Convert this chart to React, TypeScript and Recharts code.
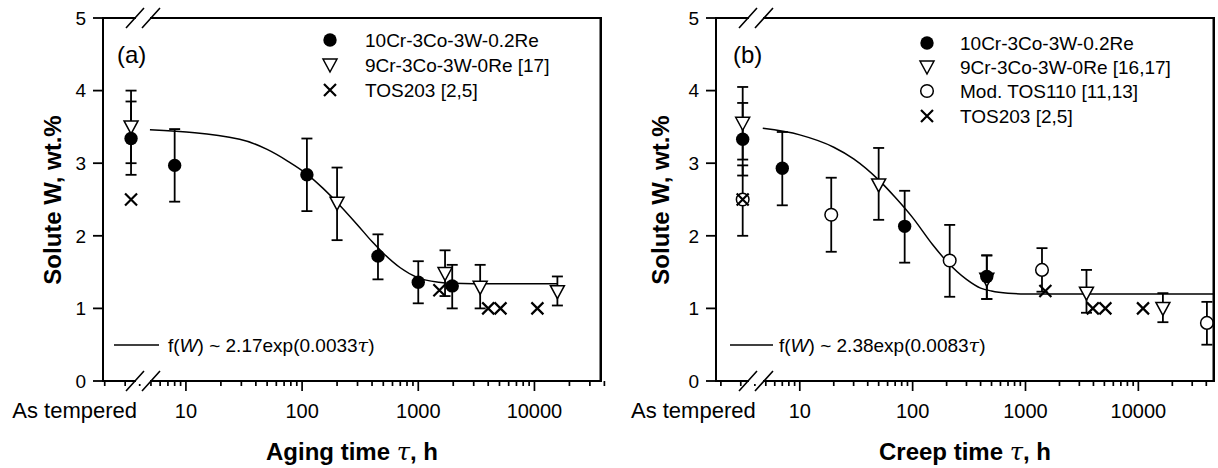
import { ComposedChart, Scatter, Line, XAxis, YAxis, ErrorBar, ReferenceArea } from "recharts";

const FONT = "'Liberation Sans', Arial, Helvetica, sans-serif";

// ---- panel (a): aging ----
const AGING_AS_TEMPERED = 3.37; // axis position used for the "As tempered" state
const agingReT = [AGING_AS_TEMPERED, 8, 110, 450, 1000, 1960];
const agingReW = [3.34, 2.97, 2.84, 1.72, 1.36, 1.31];
const agingReLo = [2.84, 2.47, 2.34, 1.4, 1.07, 1.0];
const agingReHi = [3.85, 3.47, 3.34, 2.02, 1.65, 1.6];

const aging0ReT = [AGING_AS_TEMPERED, 200, 1700, 3410, 15760];
const aging0ReW = [3.5, 2.45, 1.48, 1.29, 1.23];
const aging0ReLo = [3.0, 1.94, 1.17, 1.0, 1.04];
const aging0ReHi = [4.0, 2.94, 1.8, 1.6, 1.44];

const agingTosT = [AGING_AS_TEMPERED, 1520, 4000, 5100, 10600];
const agingTosW = [2.5, 1.25, 1.0, 1.0, 1.0];

const agingFitT = [4.9, 29, 50, 75, 110, 150, 200, 300, 400, 500, 700, 1000, 1500, 2000, 3000, 15800];
const agingFitW = [3.46, 3.33, 3.19, 3.03, 2.85, 2.66, 2.46, 2.15, 1.92, 1.76, 1.56, 1.42, 1.36, 1.345, 1.34, 1.34];

// ---- panel (b): creep ----
const CREEP_AS_TEMPERED = 3.12;
const creepReT = [CREEP_AS_TEMPERED, 7, 85, 454];
const creepReW = [3.33, 2.93, 2.13, 1.44];
const creepReLo = [2.83, 2.42, 1.63, 1.13];
const creepReHi = [3.83, 3.43, 2.62, 1.73];

const creep0ReT = [CREEP_AS_TEMPERED, 50, 454, 3470, 16500];
const creep0ReW = [3.55, 2.7, 1.4, 1.21, 1.0];
const creep0ReLo = [3.05, 2.22, 1.13, 0.94, 0.81];
const creep0ReHi = [4.05, 3.21, 1.73, 1.53, 1.21];

const creepTos110T = [CREEP_AS_TEMPERED, 19, 213, 1400, 40500];
const creepTos110W = [2.5, 2.29, 1.66, 1.53, 0.8];
const creepTos110Lo = [2.0, 1.78, 1.16, 1.23, 0.5];
const creepTos110Hi = [2.97, 2.8, 2.15, 1.83, 1.09];

const creepTosT = [CREEP_AS_TEMPERED, 1500, 3950, 5100, 11000];
const creepTosW = [2.5, 1.24, 1.0, 1.0, 1.0];

const creepFitT = [4.7, 10, 20, 30, 50, 70, 100, 150, 200, 300, 400, 500, 700, 1000, 49000];
const creepFitW = [3.48, 3.39, 3.22, 3.06, 2.77, 2.53, 2.25, 1.88, 1.65, 1.4, 1.28, 1.24, 1.21, 1.2, 1.2];

// ---- axes ----
const yTicks = [0, 1, 2, 3, 4, 5];
const majorTicks = [10, 100, 1000, 10000];
const minorTicks = [2, 3, 4, 5, 6, 7, 8, 9, 20, 30, 40, 50, 60, 70, 80, 90, 200, 300, 400, 500, 600, 700, 800, 900,
  2000, 3000, 4000, 5000, 6000, 7000, 8000, 9000, 20000, 30000, 40000];

const AXIS_W = 2;

const pts = (t: number[], w: number[], lo?: number[], hi?: number[]) =>
  t.map((x, i) => ({
    t: x,
    w: w[i],
    err: lo && hi ? [w[i] - lo[i], hi[i] - w[i]] : undefined,
  }));

const Dot = (p: any) => <circle cx={p.cx} cy={p.cy} r={6.7} fill="#000" />;
const Ring = (p: any) => (
  <circle cx={p.cx} cy={p.cy} r={6.3} fill="#fff" stroke="#000" strokeWidth={1.5} />
);
const Tri = (p: any) => (
  <path
    d={`M${p.cx - 7},${p.cy - 6}L${p.cx + 7},${p.cy - 6}L${p.cx},${p.cy + 7}Z`}
    fill="#fff"
    stroke="#000"
    strokeWidth={1.5}
  />
);
const Cross = (p: any) => (
  <path
    d={`M${p.cx - 6},${p.cy - 6}L${p.cx + 6},${p.cy + 6}M${p.cx - 6},${p.cy + 6}L${p.cx + 6},${p.cy - 6}`}
    stroke="#000"
    strokeWidth={2.2}
  />
);

const SHAPES: Record<string, any> = { dot: Dot, ring: Ring, tri: Tri, cross: Cross };

function LogTick(props: any) {
  const { x, y, payload, asTempered, atOffset } = props;
  const v = payload.value;
  const isAT = v === asTempered;
  const label = isAT ? "As tempered" : majorTicks.includes(v) ? String(v) : "";
  return (
    <g>
      {!isAT && (
        <line x1={x} y1={y} x2={x} y2={y + (label ? 10 : 5)} stroke="#000" strokeWidth={1.7} />
      )}
      {label && (
        <text
          x={isAT ? x + atOffset : x}
          y={y + 37}
          textAnchor={isAT ? "end" : "middle"}
          fontSize={isAT ? 22 : 20}
          fontFamily={FONT}
          fill="#000"
        >
          {label}
        </text>
      )}
    </g>
  );
}

function LegendMarker({ kind, x, y }: { kind: string; x: number; y: number }) {
  const S = SHAPES[kind];
  return <S cx={x} cy={y} />;
}

interface SeriesDef {
  name: string;
  kind: string;
  data: { t: number; w: number; err?: number[] }[];
}

interface PanelProps {
  left: number;
  ml: number;
  mr: number;
  domain: [number, number];
  asTempered: number;
  atOffset: number;
  series: SeriesDef[];
  legendOrder: SeriesDef[];
  fit: { t: number; w: number }[];
  fitLabel: [string, string];
  tag: string;
  xTitle: string;
  lay: {
    tagX: number;
    legX: number;
    legTextX: number;
    legY: number[];
    fitX1: number;
    fitX2: number;
    fitTextX: number;
    fitY: number;
    brk: [number, number];
  };
}

function Panel(p: PanelProps) {
  const plotL = p.ml + 60;
  const plotR = 610 - p.mr;
  const axisY = 381;
  const top = 18;
  const slash = (cx: number, cy: number) => `M${cx - 9},${cy + 10}L${cx + 9},${cy - 10}`;
  return (
    <div style={{ position: "absolute", left: p.left, top: 0, width: 610, height: 468 }}>
      <ComposedChart width={610} height={468} margin={{ top, right: p.mr, bottom: 27, left: p.ml }}>
        <XAxis
          dataKey="t"
          type="number"
          scale="log"
          domain={p.domain}
          allowDataOverflow
          ticks={[p.asTempered, ...minorTicks, ...majorTicks]}
          interval={0}
          height={60}
          tickSize={0}
          tickMargin={0}
          tickLine={false}
          axisLine={{ stroke: "#000", strokeWidth: AXIS_W }}
          tick={<LogTick asTempered={p.asTempered} atOffset={p.atOffset} />}
        />
        <YAxis
          dataKey="w"
          type="number"
          domain={[0, 5]}
          ticks={yTicks}
          allowDataOverflow
          width={60}
          tickSize={10}
          tickMargin={7}
          axisLine={{ stroke: "#000", strokeWidth: AXIS_W }}
          tickLine={{ stroke: "#000", strokeWidth: 1.8 }}
          tick={{ fill: "#000", fontSize: 19, fontFamily: FONT }}
        />
        {/* plot frame, drawn through the chart's own scales */}
        <ReferenceArea
          x1={p.domain[0]}
          x2={p.domain[1]}
          y1={0}
          y2={5}
          fill="none"
          fillOpacity={0}
          stroke="#000"
          strokeWidth={AXIS_W}
          strokeOpacity={1}
          ifOverflow="visible"
        />
        <Line
          data={p.fit}
          dataKey="w"
          type="monotone"
          stroke="#000"
          strokeWidth={1.5}
          dot={false}
          isAnimationActive={false}
        />
        {p.series.map((s) => (
          <Scatter key={s.name} name={s.name} data={s.data} shape={SHAPES[s.kind]} isAnimationActive={false}>
            {s.data.some((d) => d.err) && (
              <ErrorBar dataKey="err" direction="y" width={5.5} stroke="#000" strokeWidth={1.8} />
            )}
          </Scatter>
        ))}
      </ComposedChart>
      <svg
        width={610}
        height={468}
        style={{ position: "absolute", left: 0, top: 0, pointerEvents: "none", overflow: "visible" }}
        fontFamily={FONT}
      >
        {/* plot frame: top edge and right edge */}
        <rect x={plotL} y={top - 1} width={plotR - plotL + 1} height={2} fill="#000" />
        <rect x={plotR - 1.5} y={top - 1} width={2.5} height={axisY - top + 2} fill="#000" />
        {/* axis breaks */}
        {[top, axisY].map((yy) => (
          <g key={yy}>
            <rect x={p.lay.brk[0] + 1} y={yy - 3} width={p.lay.brk[1] - p.lay.brk[0] - 2} height={6} fill="#fff" />
            <path d={slash(p.lay.brk[0], yy) + slash(p.lay.brk[1], yy)} stroke="#000" strokeWidth={1.6} fill="none" />
          </g>
        ))}
        <text x={p.lay.tagX} y={63} fontSize={24} fill="#000">
          {p.tag}
        </text>
        {p.legendOrder.map((s, i) => (
          <g key={s.name}>
            <LegendMarker kind={s.kind} x={p.lay.legX} y={p.lay.legY[i]} />
            <text x={p.lay.legTextX} y={p.lay.legY[i]} dy="0.36em" fontSize={19} fill="#000">
              {s.name}
            </text>
          </g>
        ))}
        <line x1={p.lay.fitX1} x2={p.lay.fitX2} y1={p.lay.fitY} y2={p.lay.fitY} stroke="#000" strokeWidth={1.5} />
        <text x={p.lay.fitTextX} y={p.lay.fitY} dy="0.36em" fontSize={19} fill="#000">
          f(<tspan fontStyle="italic">W</tspan>) ~ {p.fitLabel[0]}exp({p.fitLabel[1]}
          <tspan fontStyle="italic" fontFamily="'DejaVu Serif', serif">τ</tspan>)
        </text>
        <text
          transform={`translate(61, 200) rotate(-90)`}
          textAnchor="middle"
          fontSize={24}
          fontWeight="bold"
          fill="#000"
        >
          Solute W, wt.%
        </text>
        <text x={(plotL + plotR) / 2} y={460} textAnchor="middle" fontSize={24} fontWeight="bold" fill="#000">
          {p.xTitle} <tspan fontStyle="italic" fontWeight="normal" fontFamily="'DejaVu Serif', serif">τ</tspan>, h
        </text>
      </svg>
    </div>
  );
}

export default function App() {
  const aRe = { name: "10Cr-3Co-3W-0.2Re", kind: "dot", data: pts(agingReT, agingReW, agingReLo, agingReHi) };
  const a0Re = { name: "9Cr-3Co-3W-0Re [17]", kind: "tri", data: pts(aging0ReT, aging0ReW, aging0ReLo, aging0ReHi) };
  const aTos = { name: "TOS203 [2,5]", kind: "cross", data: pts(agingTosT, agingTosW) };

  const bRe = { name: "10Cr-3Co-3W-0.2Re", kind: "dot", data: pts(creepReT, creepReW, creepReLo, creepReHi) };
  const b0Re = { name: "9Cr-3Co-3W-0Re [16,17]", kind: "tri", data: pts(creep0ReT, creep0ReW, creep0ReLo, creep0ReHi) };
  const bTos110 = { name: "Mod. TOS110 [11,13]", kind: "ring", data: pts(creepTos110T, creepTos110W, creepTos110Lo, creepTos110Hi) };
  const bTos = { name: "TOS203 [2,5]", kind: "cross", data: pts(creepTosT, creepTosW) };

  return (
    <div style={{ position: "absolute", left: 0, top: 0, width: 1218, height: 468, background: "#fff" }}>
      <Panel
        left={0}
        ml={43}
        mr={9}
        domain={[1.933, 37400]}
        asTempered={AGING_AS_TEMPERED}
        atOffset={6}
        series={[a0Re, aTos, aRe]}
        legendOrder={[aRe, a0Re, aTos]}
        fit={pts(agingFitT, agingFitW)}
        fitLabel={["2.17", "0.0033"]}
        tag="(a)"
        xTitle="Aging time"
        lay={{
          tagX: 117,
          legX: 330,
          legTextX: 365,
          legY: [40, 65, 90],
          fitX1: 114,
          fitX2: 159,
          fitTextX: 168,
          fitY: 345,
          brk: [135, 151],
        }}
      />
      <Panel
        left={608}
        ml={48}
        mr={4}
        domain={[1.81, 46800]}
        asTempered={CREEP_AS_TEMPERED}
        atOffset={13}
        series={[b0Re, bTos110, bTos, bRe]}
        legendOrder={[bRe, b0Re, bTos110, bTos]}
        fit={pts(creepFitT, creepFitW)}
        fitLabel={["2.38", "0.0083"]}
        tag="(b)"
        xTitle="Creep time"
        lay={{
          tagX: 125,
          legX: 319,
          legTextX: 352,
          legY: [43, 67, 91, 116],
          fitX1: 122,
          fitX2: 165,
          fitTextX: 171,
          fitY: 345,
          brk: [140, 156],
        }}
      />
    </div>
  );
}
